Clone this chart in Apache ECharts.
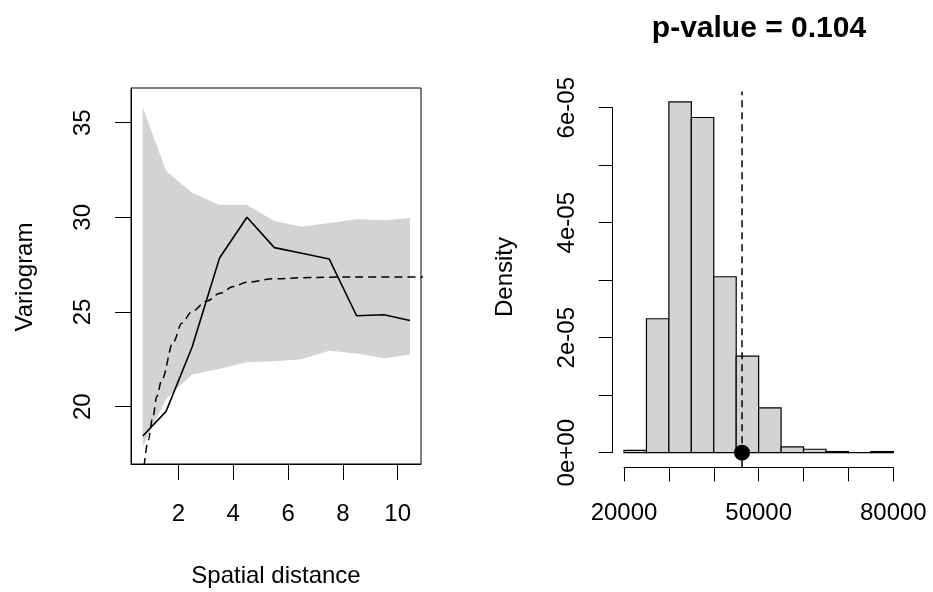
<!DOCTYPE html>
<html>
<head>
<meta charset="utf-8">
<script src="https://cdn.jsdelivr.net/npm/echarts@6/dist/echarts.min.js"></script>
<style>
html,body{margin:0;padding:0;background:#fff;}
#chart{width:933px;height:592px;}
</style>
</head>
<body>
<div id="chart"></div>
<script>
// ---------- Left panel: empirical variogram ----------
const lagDist      = [0.7, 1.55, 2.5, 3.5, 4.5, 5.5, 6.5, 7.5, 8.5, 9.5, 10.45];
const empVariogram = [18.45, 19.75, 23.15, 27.85, 30.0, 28.4, 28.1, 27.8, 24.8, 24.85, 24.55];
const envUpper     = [35.8, 32.45, 31.3, 30.65, 30.65, 29.8, 29.5, 29.7, 29.9, 29.85, 29.97];
const envLower     = [17.9, 20.4, 21.7, 22.0, 22.35, 22.4, 22.5, 22.95, 22.8, 22.55, 22.75];
const modelDist    = [0.75, 0.9, 1.07, 1.21, 1.39, 1.82, 2.12, 2.49, 3.04, 3.52, 4.01, 4.5, 5.47, 6.56, 7.54, 9.0, 10.94];
const modelGamma   = [16.87, 18.24, 19.47, 20.53, 21.41, 23.43, 24.41, 25.02, 25.58, 25.99, 26.34, 26.57, 26.75, 26.81, 26.84, 26.85, 26.85];
const leftXTicks   = [2, 4, 6, 8, 10];
const leftYTicks   = [20, 25, 30, 35];
const leftXRange   = [0.27, 10.85];
const leftYRange   = [16.97, 36.83];

// ---------- Right panel: permutation histogram ----------
const binEdges     = [20000, 25000, 30000, 35000, 40000, 45000, 50000, 55000, 60000, 65000, 70000, 75000, 80000];
const binDensity   = [4e-7, 2.33e-5, 6.10e-5, 5.83e-5, 3.06e-5, 1.68e-5, 7.8e-6, 1.0e-6, 6e-7, 2e-7, 0, 2e-7];
const obsStat      = 46300;
const pValueText   = 'p-value = 0.104';
const rightXLabels = ['20000', '', '', '50000', '', '', '80000'];
const rightYLabels = ['0e+00', '', '2e-05', '', '4e-05', '', '6e-05'];
const rightXRange  = [20000, 80000];
const rightYRange  = [0, 6e-5];
const plotYRange   = [-2.54e-6, 6.28e-5];   // full plot region (abline extent)

const FONT = 'Liberation Sans, Arial, sans-serif';
const chart = echarts.init(document.getElementById('chart'));

const hiddenAxis = (gi, extra) => Object.assign({
  gridIndex: gi, type: 'value', show: false, splitLine: { show: false }
}, extra || {});

const option = {
  animation: false,
  textStyle: { fontFamily: FONT, color: '#000' },
  grid: [
    // 0: left variogram box
    { left: 131, top: 88, width: 290, height: 376, show: true, borderColor: '#000', borderWidth: 1, backgroundColor: 'transparent' },
    // 1: right data region (x 20000..80000, y 0..6e-5)
    { left: 624, top: 107.7, width: 269.3, height: 345 },
    // 2: right x-axis (plot region bottom)
    { left: 624, top: 91.7, width: 269.3, height: 375.6 },
    // 3: right y-axis (plot region left)
    { left: 612.7, top: 107.7, width: 291.3, height: 345 }
  ],
  xAxis: [
    {
      gridIndex: 0, type: 'value', min: leftXRange[0], max: leftXRange[1],
      splitLine: { show: false },
      axisLine: { show: true, lineStyle: { color: '#000', width: 1 } },
      axisTick: { show: true, length: 16, customValues: leftXTicks, lineStyle: { color: '#000', width: 1 } },
      axisLabel: { show: true, customValues: leftXTicks, margin: 38, fontSize: 24, color: '#000', fontFamily: FONT }
    },
    hiddenAxis(1, { min: rightXRange[0], max: rightXRange[1] }),
    {
      gridIndex: 2, type: 'value', min: rightXRange[0], max: rightXRange[1], interval: 10000,
      splitLine: { show: false },
      axisLine: { show: true, lineStyle: { color: '#000', width: 1 } },
      axisTick: { show: true, length: 14, lineStyle: { color: '#000', width: 1 } },
      axisLabel: {
        show: true, margin: 34, fontSize: 24, color: '#000', fontFamily: FONT, showMinLabel: true, showMaxLabel: true,
        formatter: function (v) { return rightXLabels[Math.round((v - rightXRange[0]) / 10000)] || ''; }
      }
    },
    hiddenAxis(3, { min: 0, max: 1 })
  ],
  yAxis: [
    {
      gridIndex: 0, type: 'value', min: leftYRange[0], max: leftYRange[1],
      splitLine: { show: false },
      axisLine: { show: true, lineStyle: { color: '#000', width: 1 } },
      axisTick: { show: true, length: 16, customValues: leftYTicks, lineStyle: { color: '#000', width: 1 } },
      axisLabel: { show: true, customValues: leftYTicks, rotate: 90, margin: 36, fontSize: 24, color: '#000', fontFamily: FONT }
    },
    hiddenAxis(1, { min: rightYRange[0], max: rightYRange[1] }),
    hiddenAxis(2, { min: 0, max: 1 }),
    {
      gridIndex: 3, type: 'value', min: rightYRange[0], max: rightYRange[1], interval: 1e-5,
      splitLine: { show: false },
      axisLine: { show: true, lineStyle: { color: '#000', width: 1 } },
      axisTick: { show: true, length: 14, lineStyle: { color: '#000', width: 1 } },
      axisLabel: {
        show: true, rotate: 90, margin: 33, fontSize: 24, color: '#000', fontFamily: FONT, showMinLabel: true, showMaxLabel: true,
        formatter: function (v) { return rightYLabels[Math.round(v / 1e-5)] || ''; }
      }
    }
  ],
  series: [
    {
      type: 'custom', xAxisIndex: 0, yAxisIndex: 0, z: 1, clip: true,
      data: [[lagDist[0], envLower[0]]],
      renderItem: function (params, api) {
        const pts = [];
        for (let i = 0; i < lagDist.length; i++) pts.push(api.coord([lagDist[i], envUpper[i]]));
        for (let i = lagDist.length - 1; i >= 0; i--) pts.push(api.coord([lagDist[i], envLower[i]]));
        return { type: 'polygon', shape: { points: pts }, style: { fill: '#D3D3D3', stroke: null } };
      }
    },
    {
      type: 'line', xAxisIndex: 0, yAxisIndex: 0, z: 3, symbol: 'none',
      data: modelDist.map((x, i) => [x, modelGamma[i]]),
      smooth: 0.35, smoothMonotone: 'x',
      lineStyle: { color: '#000', width: 1.5, type: [8, 5] }
    },
    {
      type: 'line', xAxisIndex: 0, yAxisIndex: 0, z: 4, symbol: 'none',
      data: lagDist.map((x, i) => [x, empVariogram[i]]),
      lineStyle: { color: '#000', width: 1.6 }
    },
    {
      type: 'custom', xAxisIndex: 1, yAxisIndex: 1, z: 2, clip: false,
      data: binDensity.map((d, i) => [binEdges[i], binEdges[i + 1], d]),
      encode: { x: [0, 1], y: 2 },
      renderItem: function (params, api) {
        const p0 = api.coord([api.value(0), api.value(2)]);
        const p1 = api.coord([api.value(1), 0]);
        return {
          type: 'rect',
          shape: { x: p0[0], y: p0[1], width: p1[0] - p0[0], height: p1[1] - p0[1] },
          style: { fill: '#D3D3D3', stroke: '#000', lineWidth: 1.2 }
        };
      }
    },
    {
      type: 'line', xAxisIndex: 1, yAxisIndex: 1, z: 3, symbol: 'none', clip: false,
      data: [[obsStat, plotYRange[0]], [obsStat, plotYRange[1]]],
      lineStyle: { color: '#000', width: 1.5, type: [7, 5] }
    },
    {
      type: 'scatter', xAxisIndex: 1, yAxisIndex: 1, z: 5, clip: false,
      data: [[obsStat, 0]], symbol: 'circle', symbolSize: 16,
      itemStyle: { color: '#000', opacity: 1 }
    }
  ],
  graphic: [
    { type: 'text', x: 25, y: 277, rotation: Math.PI / 2,
      style: { text: 'Variogram', font: '24px ' + FONT, fill: '#000', textAlign: 'center', textVerticalAlign: 'middle' } },
    { type: 'text', x: 276, y: 576,
      style: { text: 'Spatial distance', font: '24px ' + FONT, fill: '#000', textAlign: 'center', textVerticalAlign: 'middle' } },
    { type: 'text', x: 505, y: 277, rotation: Math.PI / 2,
      style: { text: 'Density', font: '24px ' + FONT, fill: '#000', textAlign: 'center', textVerticalAlign: 'middle' } },
    { type: 'text', x: 759, y: 29,
      style: { text: pValueText, font: 'bold 30px ' + FONT, fill: '#000', textAlign: 'center', textVerticalAlign: 'middle' } }
  ]
};
chart.setOption(option);
</script>
</body>
</html>
